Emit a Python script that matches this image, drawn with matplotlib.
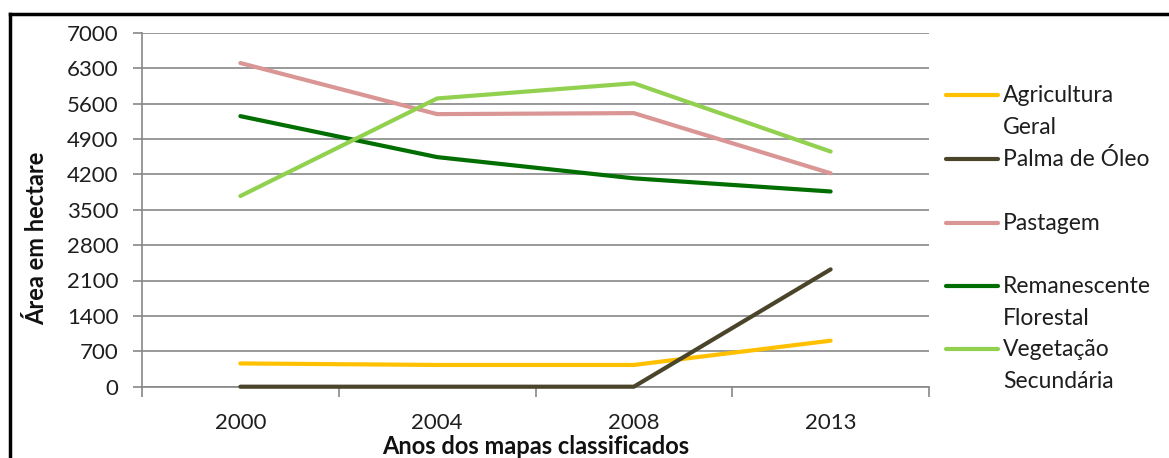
import matplotlib
matplotlib.use("Agg")
import matplotlib.pyplot as plt
from matplotlib.lines import Line2D

years = ["2000", "2004", "2008", "2013"]
agricultura = [460, 430, 430, 910]
palma = [0, 0, 0, 2320]
pastagem = [6400, 5390, 5410, 4220]
remanescente = [5350, 4540, 4120, 3860]
vegetacao = [3770, 5700, 6000, 4650]

series_names = ["Agricultura\nGeral", "Palma de Óleo", "Pastagem",
                "Remanescente\nFlorestal", "Vegetação\nSecundária"]
series_values = [agricultura, palma, pastagem, remanescente, vegetacao]
colors = ["#FFC000", "#4A452A", "#D99694", "#006E00", "#92D050"]
yticks = list(range(0, 7001, 700))

FONT = ["Lato", "DejaVu Sans"]
plt.rcParams["font.family"] = FONT

W, H = 1169, 458
fig = plt.figure(figsize=(W / 100, H / 100), dpi=100)
ax_bottom_px, ax_top_px = 386.7, 32.7
ax = fig.add_axes([142 / W, 1 - ax_bottom_px / H, (929 - 142) / W, (ax_bottom_px - ax_top_px) / H])

x = list(range(len(years)))
for vals, c in zip(series_values, colors):
    ax.plot(x, vals, color=c, lw=3.0, solid_capstyle="round", solid_joinstyle="round",
            zorder=3, clip_on=False)

ax.set_xlim(-0.5, len(years) - 0.5)
ax.set_ylim(0, 7000)
ax.set_yticks(yticks)
ax.set_yticklabels([str(v) for v in yticks])
ax.set_xticks(x)
ax.set_xticklabels(years)
ax.set_xticks([i - 0.5 for i in range(len(years) + 1)], minor=True)

grid_c = "#878787"
txt_c = "#1e1e1e"
ax.grid(axis="y", color=grid_c, lw=1.2, zorder=1)
for s in ["top", "right"]:
    ax.spines[s].set_visible(False)
for s in ["left", "bottom"]:
    ax.spines[s].set_color(grid_c)
    ax.spines[s].set_linewidth(1.2)
    ax.spines[s].set_zorder(1)
ax.tick_params(axis="y", which="major", length=6.5, width=1.2, color=grid_c,
               labelsize=16, labelcolor=txt_c, pad=10.5)
ax.tick_params(axis="x", which="major", length=0, labelsize=16, labelcolor=txt_c, pad=19)
ax.tick_params(axis="x", which="minor", length=7, width=1.2, color=grid_c)

ax.set_ylabel("Área em hectare", fontsize=17, fontweight="bold", color="#111111")
ax.yaxis.set_label_coords(-0.1194, 0.4186)
ax.set_xlabel("Anos dos mapas classificados", fontsize=17, fontweight="bold", color="#111111")
ax.xaxis.set_label_coords(0.5, -0.136)

# legend (manual, first text line aligned with handle)
first_y = [95, 159, 223, 286, 349]
line_gap = 32
for name, c, yp in zip(series_names, colors, first_y):
    fy = 1 - yp / H
    fig.add_artist(Line2D([946 / W, 998 / W], [fy, fy], color=c, lw=3.0,
                          solid_capstyle="round", transform=fig.transFigure))
    for i, part in enumerate(name.split("\n")):
        by = 1 - (yp + 7 + i * line_gap) / H
        fig.text(1003 / W, by, part, fontsize=16.5, color=txt_c, va="baseline",
                 ha="left", transform=fig.transFigure)

# figure border (left and top)
fig.add_artist(Line2D([10 / W, 10 / W], [0, 1 - 14 / H], color="black", lw=2.5, transform=fig.transFigure))
fig.add_artist(Line2D([10 / W, 1.0], [1 - 14 / H, 1 - 14 / H], color="black", lw=2.5, transform=fig.transFigure))

fig.savefig("out.png", dpi=100)
